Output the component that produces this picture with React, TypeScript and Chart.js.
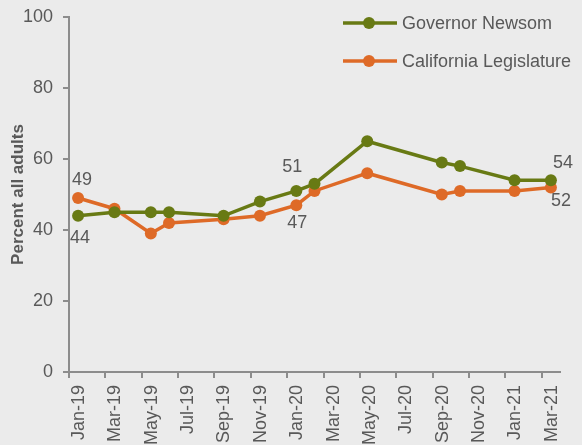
import React, { useEffect, useRef } from "react";
import { Chart, registerables } from "chart.js";

Chart.register(...registerables);

// Survey dates as months since Jan 2019 (0 = Jan-19)
const surveyMonths = [0.5, 2.5, 4.5, 5.5, 8.5, 10.5, 12.5, 13.5, 16.4, 20.5, 21.5, 24.5, 26.5];
const governorNewsom = [44, 45, 45, 45, 44, 48, 51, 53, 65, 59, 58, 54, 54];
const californiaLegislature = [49, 46, 39, 42, 43, 44, 47, 51, 56, 50, 51, 51, 52];
const seriesNames = ["Governor Newsom", "California Legislature"];
const tickMonths = [0, 2, 4, 6, 8, 10, 12, 14, 16, 18, 20, 22, 24, 26];
const tickLabels = [
  "Jan-19", "Mar-19", "May-19", "Jul-19", "Sep-19", "Nov-19", "Jan-20",
  "Mar-20", "May-20", "Jul-20", "Sep-20", "Nov-20", "Jan-21", "Mar-21",
];
// data labels: [datasetIndex, pointIndex, dx, dy] (offset of label from its point)
const labelPoints: [number, number, number, number][] = [
  [0, 0, 2, 22],
  [1, 0, 4, -18],
  [0, 6, -4, -24],
  [1, 6, 1, 18],
  [0, 12, 12, -17],
  [1, 12, 10, 14],
];

const GREEN = "#687A14";
const ORANGE = "#DE6A27";
const TEXT = "#595959";
const AXIS = "#8C8C8C";
const FONT = "'Liberation Sans', Arial, sans-serif";

export default function App() {
  const ref = useRef<HTMLCanvasElement | null>(null);

  useEffect(() => {
    document.body.style.margin = "0";
    const canvas = ref.current;
    if (!canvas) return;

    const labelPlugin = {
      id: "dataLabels",
      afterDatasetsDraw(chart: any) {
        const ctx = chart.ctx;
        ctx.save();
        ctx.font = `18px ${FONT}`;
        ctx.fillStyle = TEXT;
        ctx.textAlign = "center";
        ctx.textBaseline = "middle";
        labelPoints.forEach(([ds, idx, dx, dy]) => {
          const el = chart.getDatasetMeta(ds).data[idx];
          const val = chart.data.datasets[ds].data[idx].y;
          ctx.fillText(String(val), el.x + dx, el.y + dy);
        });
        ctx.restore();
      },
    };

    const legendPlugin = {
      id: "customLegend",
      afterDraw(chart: any) {
        const ctx = chart.ctx;
        const area = chart.chartArea;
        const colors = [GREEN, ORANGE];
        ctx.save();
        seriesNames.forEach((name, i) => {
          const y = area.top + 6 + i * 38;
          const x0 = area.right - 217;
          ctx.strokeStyle = colors[i];
          ctx.lineWidth = 3.5;
          ctx.beginPath();
          ctx.moveTo(x0, y);
          ctx.lineTo(x0 + 54, y);
          ctx.stroke();
          ctx.fillStyle = colors[i];
          ctx.beginPath();
          ctx.arc(x0 + 26, y, 6, 0, Math.PI * 2);
          ctx.fill();
          ctx.fillStyle = TEXT;
          ctx.font = `18px ${FONT}`;
          ctx.textAlign = "left";
          ctx.textBaseline = "middle";
          ctx.fillText(name, x0 + 59, y + 1);
        });
        ctx.restore();
      },
    };

    const toPoints = (vals: number[]) => vals.map((v, i) => ({ x: surveyMonths[i], y: v }));

    const chart = new Chart(canvas, {
      type: "line",
      data: {
        datasets: [
          {
            label: seriesNames[0],
            data: toPoints(governorNewsom),
            borderColor: GREEN,
            backgroundColor: GREEN,
            borderWidth: 3.5,
            pointRadius: 6,
            pointBackgroundColor: GREEN,
            pointBorderWidth: 0,
            tension: 0,
          },
          {
            label: seriesNames[1],
            data: toPoints(californiaLegislature),
            borderColor: ORANGE,
            backgroundColor: ORANGE,
            borderWidth: 3.5,
            pointRadius: 6,
            pointBackgroundColor: ORANGE,
            pointBorderWidth: 0,
            tension: 0,
          },
        ],
      },
      options: {
        animation: false,
        responsive: false,
        maintainAspectRatio: false,
        layout: { padding: { left: 0, top: 17, right: 22, bottom: 0 } },
        plugins: {
          legend: { display: false },
          tooltip: { enabled: false },
        },
        scales: {
          x: {
            type: "linear",
            min: 0,
            max: 27,
            afterBuildTicks: (scale: any) => {
              scale.ticks = tickMonths.map((v) => ({ value: v }));
            },
            afterFit: (scale: any) => {
              scale.height = 73;
              scale.paddingTop = 0;
              scale.paddingLeft = 0;
              scale.paddingRight = 0;
            },
            ticks: {
              autoSkip: false,
              maxRotation: 90,
              minRotation: 90,
              padding: 7,
              labelOffset: 10,
              color: TEXT,
              font: { family: FONT, size: 18 },
              callback: (v: any) => {
                const i = tickMonths.indexOf(Number(v));
                return i >= 0 ? tickLabels[i] : "";
              },
            },
            grid: {
              display: true,
              drawOnChartArea: false,
              drawTicks: true,
              tickLength: 6,
              color: AXIS,
              lineWidth: 2,
            },
            border: { display: true, color: AXIS, width: 2 },
          },
          y: {
            min: 0,
            max: 100,
            afterFit: (scale: any) => {
              scale.width = 69;
              scale.paddingTop = 0;
              scale.paddingBottom = 0;
            },
            ticks: {
              stepSize: 20,
              padding: 10,
              color: TEXT,
              font: { family: FONT, size: 18 },
            },
            grid: {
              display: true,
              drawOnChartArea: false,
              drawTicks: true,
              tickLength: 6,
              color: AXIS,
              lineWidth: 2,
            },
            border: { display: true, color: AXIS, width: 2 },
            title: {
              display: true,
              text: "Percent all adults",
              color: TEXT,
              font: { family: FONT, size: 17, weight: "bold" },
              padding: { top: 8, bottom: 0 },
            },
          },
        },
      },
      plugins: [labelPlugin, legendPlugin],
    } as any);

    return () => chart.destroy();
  }, []);

  return (
    <div style={{ width: 582, height: 445, background: "#EBEBEB" }}>
      <canvas ref={ref} width={582} height={445} style={{ display: "block" }} />
    </div>
  );
}
